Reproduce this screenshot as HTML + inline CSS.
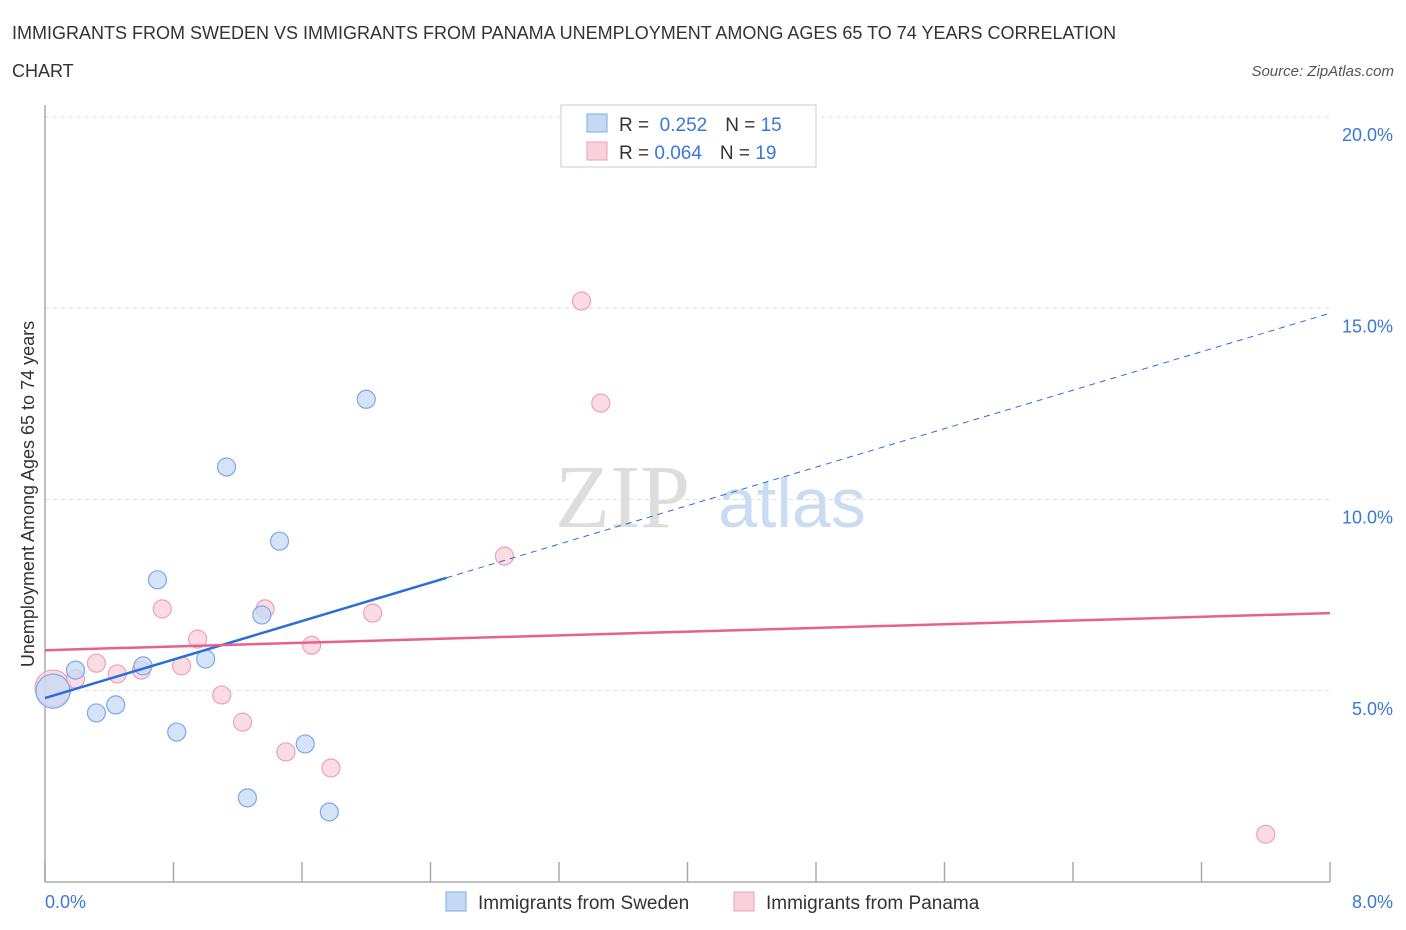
<!DOCTYPE html>
<html><head><meta charset="utf-8"><style>
body{margin:0;background:#fff;font-family:"Liberation Sans",sans-serif;}
svg{display:block}
</style></head><body>
<svg width="1406" height="930">
<text x="12" y="39" font-size="18" fill="#333">IMMIGRANTS FROM SWEDEN VS IMMIGRANTS FROM PANAMA UNEMPLOYMENT AMONG AGES 65 TO 74 YEARS CORRELATION</text>
<text x="12" y="77" font-size="18" fill="#333">CHART</text>
<text x="1394" y="76" font-size="15" fill="#555" font-style="italic" text-anchor="end">Source: ZipAtlas.com</text>
<g id="grid"></g>
<text x="555" y="527" font-size="90" fill="#ddd" font-family="Liberation Serif">ZIP</text>
<text x="718" y="527" font-size="70" fill="#c9dcf2">atlas</text>
<line x1="45" y1="105" x2="45" y2="882" stroke="#aaa" stroke-width="1.5"/>
<line x1="45" y1="882" x2="1330" y2="882" stroke="#aaa" stroke-width="1.5"/>
<g id="ticks"></g>
<g id="pts"></g>
<g id="lines"></g>
<text x="34" y="494" font-size="18" fill="#333" text-anchor="middle" transform="rotate(-90 34 494)">Unemployment Among Ages 65 to 74 years</text>
<text x="45" y="908" font-size="18" fill="#3a78d8">0.0%</text>
<text x="1393" y="908" font-size="18" fill="#3a78d8" text-anchor="end">8.0%</text>
<g>
<rect x="561" y="105" width="255" height="62" fill="#fff" stroke="#ccc"/>
<rect x="587" y="114" width="20" height="18" fill="#c5d9f5" stroke="#7aaae8"/>
<rect x="587" y="142" width="20" height="18" fill="#f9d0dc" stroke="#eea0b8"/>
<text x="619" y="131" font-size="19" fill="#333">R = <tspan fill="#3a78d8">&#160;0.252</tspan><tspan dx="18">N = </tspan><tspan fill="#3a78d8">15</tspan></text>
<text x="619" y="159" font-size="19" fill="#333">R = <tspan fill="#3a78d8">0.064</tspan><tspan dx="18">N = </tspan><tspan fill="#3a78d8">19</tspan></text>
</g>
<g>
<rect x="446" y="892" width="20" height="19" fill="#c5d9f5" stroke="#7aaae8"/>
<text x="478" y="909" font-size="19" fill="#333">Immigrants from Sweden</text>
<rect x="734" y="892" width="20" height="19" fill="#f9d0dc" stroke="#eea0b8"/>
<text x="766" y="909" font-size="19" fill="#333">Immigrants from Panama</text>
</g>
</svg>
<script>
const swedenX=[0.05,0.19,0.32,0.44,0.61,0.70,0.82,1.00,1.13,1.26,1.35,1.46,1.62,1.77,2.00];
const swedenY=[4.99,5.54,4.42,4.63,5.65,7.90,3.92,5.83,10.85,2.20,6.98,8.91,3.61,1.83,12.62];
const panamaX=[0.05,0.19,0.32,0.45,0.60,0.73,0.85,0.95,1.10,1.23,1.37,1.50,1.66,1.78,2.04,2.86,3.34,3.46,7.60];
const panamaY=[5.07,5.31,5.72,5.44,5.54,7.14,5.65,6.35,4.89,4.18,7.14,3.40,6.19,2.98,7.03,8.52,15.19,12.52,1.25];
const swedenTrend=[4.81,14.87];
const panamaTrend=[6.06,7.03];
const yTicks=[5,10,15,20];
const yTickLabels=["5.0%","10.0%","15.0%","20.0%"];
const xTicks=[0,0.8,1.6,2.4,3.2,4.0,4.8,5.6,6.4,7.2,8.0];
const NS="http://www.w3.org/2000/svg";
const sx=v=>45+v/8*1285, sy=v=>882-v/20*765;
function mk(t,a,p){const e=document.createElementNS(NS,t);for(const k in a)e.setAttribute(k,a[k]);p.appendChild(e);return e;}
const grid=document.getElementById('grid');
yTicks.forEach((v,i)=>{
 const l=mk('line',{x1:45,x2:1330,y1:sy(v),y2:sy(v),stroke:'#ddd','stroke-dasharray':'4,4'},grid);
 
 
 const t=mk('text',{x:1393,y:sy(v)+24,'font-size':18,fill:'#3a78d8','text-anchor':'end'},grid);
 t.textContent=yTickLabels[i];
 
 
});
const ticks=document.getElementById('ticks');
xTicks.forEach(v=>{
 const l=mk('line',{x1:sx(v),x2:sx(v),y1:862,y2:882,stroke:'#aaa','stroke-width':1.5},ticks);
 
 
});
const pts=document.getElementById('pts');
panamaX.forEach((x,i)=>{
 const c=mk('circle',{cx:sx(x),cy:sy(panamaY[i]),r:i==0?18:9,fill:'#f9d0dc','fill-opacity':0.75,stroke:'#eea0b8','stroke-width':1.2},pts);
 
 
});
swedenX.forEach((x,i)=>{
 const c=mk('circle',{cx:sx(x),cy:sy(swedenY[i]),r:i==0?17:9,fill:'#c5d9f5','fill-opacity':0.75,stroke:'#7aaae8','stroke-width':1.2},pts);
 
 
});
const lines=document.getElementById('lines');
const bAt=x=>swedenTrend[0]+(swedenTrend[1]-swedenTrend[0])*x/8;
let l1=mk('line',{x1:sx(0),y1:sy(bAt(0)),x2:sx(2.5),y2:sy(bAt(2.5)),stroke:'#2a6fd8','stroke-width':2.5},lines);


let l2=mk('line',{x1:sx(2.5),y1:sy(bAt(2.5)),x2:sx(8),y2:sy(bAt(8)),stroke:'#2a6fd8','stroke-width':1,'stroke-dasharray':'6,5'},lines);


let l3=mk('line',{x1:sx(0),y1:sy(panamaTrend[0]),x2:sx(8),y2:sy(panamaTrend[1]),stroke:'#e8608c','stroke-width':2.5},lines);


</script>
</body></html>
